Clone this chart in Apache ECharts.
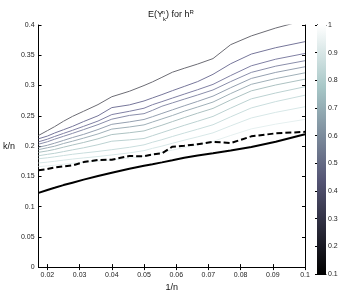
<!DOCTYPE html>
<html>
<head>
<meta charset="utf-8">
<script src="https://cdn.jsdelivr.net/npm/echarts@6/dist/echarts.min.js"></script>
<style>
html,body{margin:0;padding:0;background:#fff;}
#chart{width:346px;height:297px;}
</style>
</head>
<body>
<div id="chart"></div>
<script>
// x positions (1/n)
const xVals = [0.01724, 0.02, 0.02222, 0.025, 0.02778, 0.03125, 0.03571, 0.04, 0.04545, 0.05,
               0.05263, 0.05556, 0.05882, 0.0625, 0.06667, 0.07143, 0.07692, 0.08333, 0.09091, 0.1];

// gray curves, darkest (top) to lightest
const grayLine1  = [0.2175, 0.2255, 0.232, 0.241, 0.249, 0.2575, 0.2685, 0.2815, 0.2905, 0.300, 0.306, 0.3135, 0.322, 0.3285, 0.3355, 0.3445, 0.3675, 0.382, 0.395, 0.408];
const grayLine2  = [0.212, 0.2165, 0.2215, 0.227, 0.2325, 0.2405, 0.250, 0.2635, 0.268, 0.2745, 0.2795, 0.285, 0.2915, 0.2985, 0.3065, 0.3185, 0.336, 0.352, 0.3625, 0.3725];
const grayLine3  = [0.207, 0.2114, 0.2158, 0.2209, 0.226, 0.2326, 0.2413, 0.252, 0.2574, 0.2625, 0.2683, 0.2734, 0.2793, 0.2858, 0.2931, 0.3019, 0.3165, 0.3326, 0.3435, 0.353];
const grayLine4  = [0.203, 0.2071, 0.2113, 0.2161, 0.2209, 0.2272, 0.2354, 0.2444, 0.2506, 0.2535, 0.259, 0.2658, 0.2713, 0.2775, 0.2844, 0.2927, 0.3065, 0.3217, 0.332, 0.341];
const grayLine5  = [0.198, 0.2013, 0.2047, 0.2093, 0.214, 0.2193, 0.2273, 0.2359, 0.2399, 0.2439, 0.2485, 0.2539, 0.2598, 0.2665, 0.2738, 0.2825, 0.2964, 0.3117, 0.3217, 0.331];
const grayLine6  = [0.194, 0.1972, 0.1997, 0.2042, 0.208, 0.2131, 0.22, 0.228, 0.2315, 0.235, 0.2397, 0.2448, 0.2505, 0.2575, 0.2645, 0.2727, 0.2867, 0.302, 0.3115, 0.321];
const grayLine7  = [0.1896, 0.192, 0.1944, 0.1981, 0.2017, 0.2059, 0.212, 0.219, 0.222, 0.225, 0.2295, 0.2344, 0.2404, 0.247, 0.2543, 0.2622, 0.2761, 0.2912, 0.3009, 0.3105];
const grayLine8  = [0.184, 0.1863, 0.188, 0.1908, 0.1937, 0.1971, 0.2022, 0.208, 0.2102, 0.2125, 0.2171, 0.2222, 0.2279, 0.2342, 0.241, 0.249, 0.2627, 0.278, 0.2877, 0.298];
const grayLine9  = [0.179, 0.1806, 0.1822, 0.1843, 0.1864, 0.1885, 0.1911, 0.194, 0.1979, 0.202, 0.2063, 0.2105, 0.2158, 0.2215, 0.2278, 0.2352, 0.2483, 0.263, 0.2735, 0.284];
const grayLine10 = [0.172, 0.1734, 0.1748, 0.1767, 0.1785, 0.1804, 0.1827, 0.1853, 0.1887, 0.1924, 0.1962, 0.1999, 0.2046, 0.2097, 0.2152, 0.2218, 0.2334, 0.2464, 0.2557, 0.265];
const grayLine11 = [0.166, 0.1672, 0.1683, 0.1699, 0.1715, 0.173, 0.175, 0.1772, 0.18, 0.1831, 0.1863, 0.1894, 0.1933, 0.1976, 0.2023, 0.2077, 0.2175, 0.2284, 0.2362, 0.244];

// black reference curves
const dashedLine = [0.160, 0.162, 0.1645, 0.1665, 0.168, 0.1735, 0.177, 0.1775, 0.1835, 0.183, 0.186, 0.188, 0.199, 0.2005, 0.203, 0.207, 0.205, 0.216, 0.221, 0.2235];
const solidLine  = [0.1226, 0.1275, 0.131, 0.1355, 0.1395, 0.1445, 0.1505, 0.156, 0.1625, 0.1675, 0.170, 0.173, 0.1765, 0.1805, 0.1845, 0.188, 0.1925, 0.1985, 0.207, 0.2195];

// tick values
const xTicks = [0.02, 0.03, 0.04, 0.05, 0.06, 0.07, 0.08, 0.09, 0.1];
const colorbarRange = [0.1, 1];

const grayLines = [grayLine1, grayLine2, grayLine3, grayLine4, grayLine5, grayLine6,
                   grayLine7, grayLine8, grayLine9, grayLine10, grayLine11];
const grayColors = ['#6c6c74', '#76769a', '#8080a4', '#8a8eaa', '#95a0b0', '#a0b0b8',
                    '#adc2c2', '#bcd2d2', '#cadede', '#d8e8e8', '#e6f0f0'];

const FONT = 'Liberation Sans, Arial, Helvetica, sans-serif';
const pair = arr => arr.map((v, i) => [xVals[i], v]);

const series = [];
grayLines.forEach((arr, i) => {
  series.push({
    type: 'line', xAxisIndex: 0, yAxisIndex: 0, data: pair(arr),
    showSymbol: false, symbol: 'none', silent: true,
    lineStyle: { color: grayColors[i], width: 1 }, z: 3
  });
});
series.push({
  type: 'line', xAxisIndex: 0, yAxisIndex: 0, data: pair(dashedLine),
  showSymbol: false, symbol: 'none', silent: true,
  lineStyle: { color: '#000', width: 2, type: [6, 3] }, z: 4
});
series.push({
  type: 'line', xAxisIndex: 0, yAxisIndex: 0, data: pair(solidLine),
  showSymbol: false, symbol: 'none', silent: true,
  lineStyle: { color: '#000', width: 2 }, z: 4
});
// colorbar fill
series.push({
  type: 'custom', xAxisIndex: 2, yAxisIndex: 2, silent: true,
  data: [colorbarRange],
  renderItem: function (params, api) {
    const p0 = api.coord([0, api.value(1)]);
    const p1 = api.coord([1, api.value(0)]);
    return {
      type: 'rect',
      shape: { x: p0[0], y: p0[1], width: p1[0] - p0[0], height: p1[1] - p0[1] },
      style: {
        fill: new echarts.graphic.LinearGradient(0, 0, 0, 1, [
          { offset: 0, color: '#ffffff' },
          { offset: 0.25, color: '#a7c7c7' },
          { offset: 0.625, color: '#545474' },
          { offset: 1, color: '#000000' }
        ])
      }
    };
  }
});

const axisLine = { show: true, lineStyle: { color: '#000', width: 1 } };
const labelStyle = { color: '#222', fontSize: 7, fontFamily: FONT };

const option = {
  animation: false,
  backgroundColor: '#fff',
  title: {
    text: 'E(Y{sup|n}{sub|k}) for h{sup2|R}',
    left: 166, top: 3, textAlign: 'center',
    textStyle: {
      fontSize: 9, fontWeight: 'normal', color: '#111', fontFamily: FONT, lineHeight: 14,
      rich: {
        sup: { fontSize: 6, verticalAlign: 'top', lineHeight: 14, width: 0, fontFamily: FONT, color: '#111', padding: [1,0,0,0] },
        sub: { fontSize: 6, verticalAlign: 'bottom', lineHeight: 14, fontFamily: FONT, color: '#111', padding: [0,0,0,0] },
        sup2: { fontSize: 6, verticalAlign: 'top', lineHeight: 14, fontFamily: FONT, color: '#111', padding: [1,0,0,0] }
      }
    }
  },
  grid: [
    { left: 28, right: 41, top: 25, bottom: 23, show: false },
    { left: 317, width: 9, top: 25, bottom: 23, show: false }
  ],
  xAxis: [
    {
      type: 'value', gridIndex: 0, min: 0.01724, max: 0.1, position: 'bottom',
      name: '1/n', nameLocation: 'middle', nameGap: 14,
      nameTextStyle: { fontSize: 9, color: '#111', fontFamily: FONT },
      axisLine: axisLine,
      axisTick: { show: true, inside: true, length: 3, lineStyle: { color: '#000' }, customValues: xTicks },
      axisLabel: Object.assign({ margin: 4, customValues: xTicks, formatter: v => String(+v.toFixed(2)) }, labelStyle),
      splitLine: { show: false }
    },
    {
      type: 'value', gridIndex: 0, min: 0.01724, max: 0.1, position: 'top',
      axisLine: axisLine,
      axisTick: { show: true, inside: true, length: 3, lineStyle: { color: '#000' }, customValues: xTicks },
      axisLabel: { show: false, customValues: xTicks },
      splitLine: { show: false }
    },
    {
      type: 'value', gridIndex: 1, min: 0, max: 1, show: true,
      axisLine: axisLine, axisTick: { show: false }, axisLabel: { show: false }, splitLine: { show: false }
    },
    {
      type: 'value', gridIndex: 1, min: 0, max: 1, position: 'top', show: true,
      axisLine: axisLine, axisTick: { show: false }, axisLabel: { show: false }, splitLine: { show: false }
    }
  ],
  yAxis: [
    {
      type: 'value', gridIndex: 0, min: 0, max: 0.4, interval: 0.05, position: 'left',
      name: 'k/n', nameLocation: 'middle', nameGap: 14, nameRotate: 0,
      nameTextStyle: { fontSize: 9, color: '#111', fontFamily: FONT, align: 'right', verticalAlign: 'middle', padding: [0, 0, 6, 0] },
      axisLine: axisLine,
      axisTick: { show: true, inside: true, length: 3, lineStyle: { color: '#000' } },
      axisLabel: Object.assign({ margin: 4, formatter: v => String(+v.toFixed(2)) }, labelStyle),
      splitLine: { show: false }
    },
    {
      type: 'value', gridIndex: 0, min: 0, max: 0.4, interval: 0.05, position: 'right',
      axisLine: axisLine,
      axisTick: { show: true, inside: true, length: 3, lineStyle: { color: '#000' } },
      axisLabel: { show: false }, splitLine: { show: false }
    },
    {
      type: 'value', gridIndex: 1, min: 0.1, max: 1, interval: 0.1, position: 'right',
      axisLine: axisLine,
      axisTick: { show: true, inside: true, length: 2, lineStyle: { color: '#000' } },
      axisLabel: Object.assign({ margin: 2, formatter: v => String(+v.toFixed(1)) }, labelStyle),
      splitLine: { show: false }
    },
    {
      type: 'value', gridIndex: 1, min: 0.1, max: 1, interval: 0.1, position: 'left',
      axisLine: axisLine,
      axisTick: { show: true, inside: true, length: 2, lineStyle: { color: '#000' } },
      axisLabel: { show: false }, splitLine: { show: false }
    }
  ],
  series: series
};

const chart = echarts.init(document.getElementById('chart'), null, { renderer: 'canvas' });
chart.setOption(option);
</script>
</body>
</html>
